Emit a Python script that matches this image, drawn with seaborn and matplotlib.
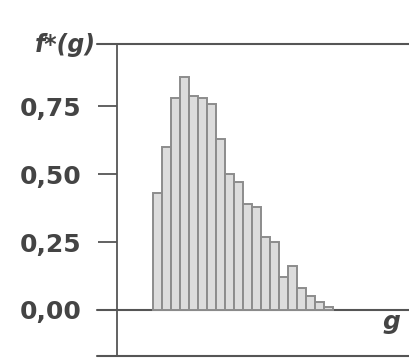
import matplotlib
matplotlib.use("Agg")
import matplotlib.pyplot as plt
import seaborn as sns
import pandas as pd

# Relative frequencies f*(g) for successive classes of g
g_classes = list(range(1, 21))
f_star = [0.43, 0.60, 0.78, 0.86, 0.79, 0.78, 0.76, 0.63, 0.50, 0.47,
          0.39, 0.38, 0.27, 0.25, 0.12, 0.16, 0.08, 0.05, 0.03, 0.01]
y_ticks = [0.0, 0.25, 0.50, 0.75]
y_tick_labels = ["0,00", "0,25", "0,50", "0,75"]

df = pd.DataFrame({"g": g_classes, "f": f_star})

sns.set_style("white")
plt.rcParams["font.family"] = ["DejaVu Sans"]

line_col = "#555555"
text_col = "#444444"

fig = plt.figure(figsize=(4.09, 3.60), dpi=100)
ax = fig.add_axes([117 / 409, 4 / 360, 1 - 117 / 409, 312 / 360])

sns.barplot(data=df, x="g", y="f", width=1.0, color="#dcdcdc",
            edgecolor="#8c8c8c", linewidth=1.4, saturation=1, ax=ax)

ax.set_xlim(-4.5, 27.9)
ax.set_ylim(-0.17, 0.98)

for s in ["top", "right", "bottom"]:
    ax.spines[s].set_visible(False)
ax.spines["left"].set_color(line_col)
ax.spines["left"].set_linewidth(1.3)

# baseline and top rule, running out past the axis like the ticks
for yv in (0.0, 0.98, -0.17):
    ax.axhline(yv, xmin=-0.068, xmax=1.0, color=line_col, lw=1.5,
               clip_on=False, zorder=0)

ax.set_yticks(y_ticks)
ax.set_yticklabels(y_tick_labels, fontsize=18, fontweight="bold",
                   color=text_col)
ax.tick_params(axis="y", length=14, width=1.3, color=line_col, pad=11.5,
               left=True)
ax.set_xticks([])
ax.set_xlabel("")
ax.set_ylabel("")

fig.text(96 / 409, 1 - 45 / 360, "f*(g)", fontsize=17, style="italic",
         fontweight="bold", color=text_col, ha="right", va="center")
fig.text(391 / 409, 1 - 322 / 360, "g", fontsize=18, style="italic",
         fontweight="bold", color=text_col, ha="center", va="center")

fig.savefig("out.png", dpi=100)
